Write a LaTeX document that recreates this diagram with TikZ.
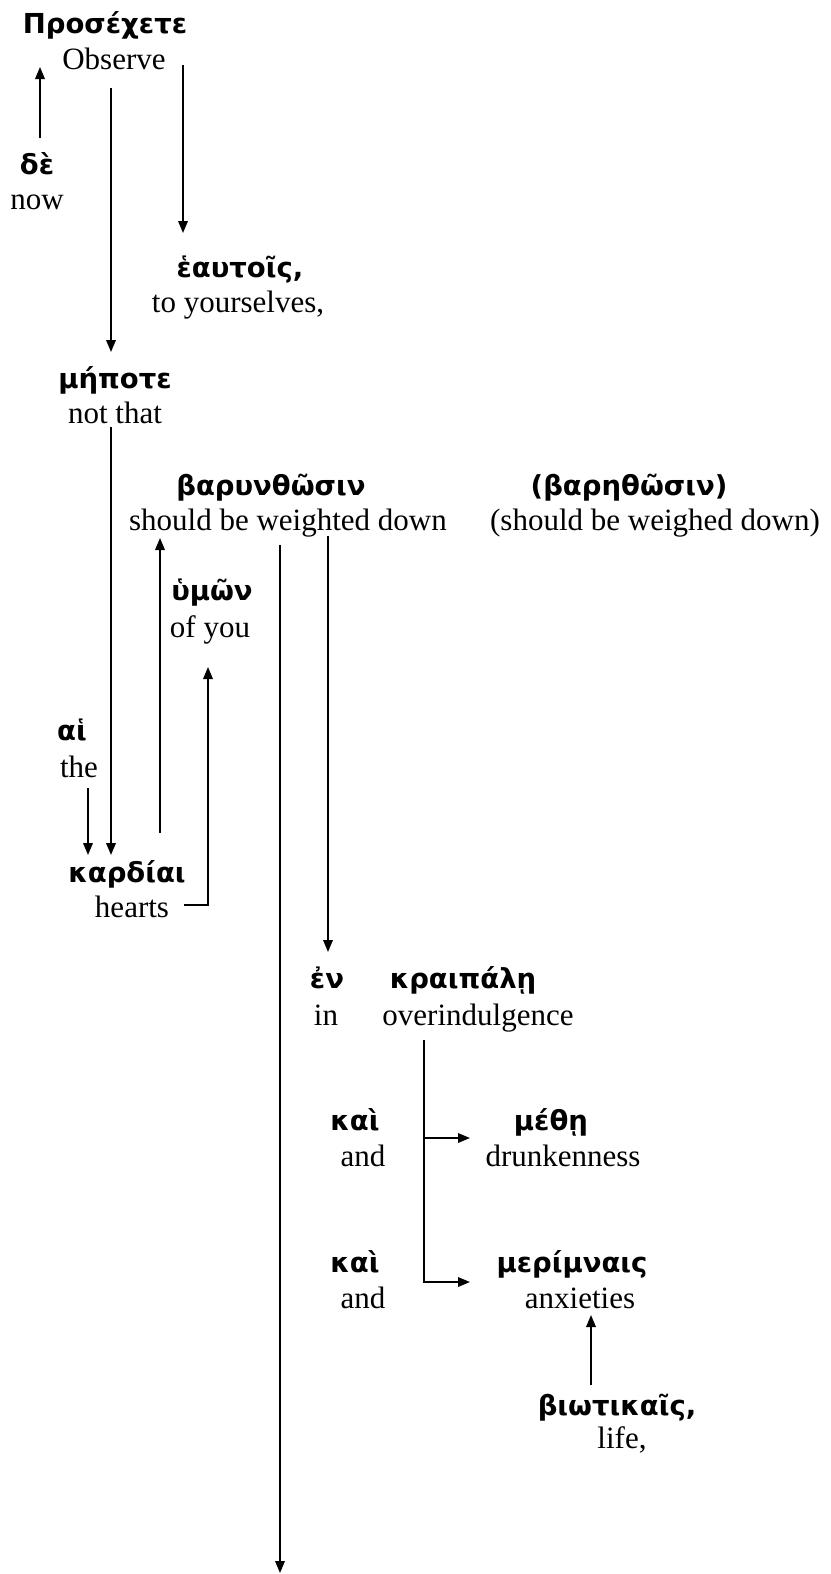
\documentclass[tikz,border=0pt]{standalone}
\usepackage{fontspec}
\setmainfont{Liberation Serif}
\newfontfamily\grk[Script=Greek]{DejaVu Sans}
\usetikzlibrary{arrows.meta}
\tikzset{
  gk/.style={font=\grk\bfseries\fontsize{27.5}{32}\selectfont, inner sep=0pt, anchor=base},
  en/.style={font=\fontsize{31}{36}\selectfont, inner sep=0pt, anchor=base},
  arr/.style={line width=1.9pt, -{Triangle[length=12pt,width=9.5pt]}},
  ln/.style={line width=1.9pt}
}
\begin{document}
\begin{tikzpicture}[x=1pt,y=-1pt]
\path[use as bounding box] (0,0) rectangle (830,1574);
% words
\node[gk] (G1) at (105,33) {Προσέχετε};
\node[en] (E1) at (114,69) {Observe};
\node[gk] (G2) at (37,174) {δὲ};
\node[en] (E2) at (37,209) {now};
\node[gk] (G3) at (240,277) {ἑαυτοῖς,};
\node[en] (E3) at (238,312) {to yourselves,};
\node[gk] (G4) at (115,388) {μήποτε};
\node[en] (E4) at (115,423) {not that};
\node[gk] (G5) at (271,495) {βαρυνθῶσιν};
\node[en] (E5) at (288,530) {should be weighted down};
\node[gk] (G6) at (629,495) {(βαρηθῶσιν)};
\node[en] (E6) at (655,530) {(should be weighed down)};
\node[gk] (G7) at (212,600) {ὑμῶν};
\node[en] (E7) at (210,637) {of you};
\node[gk] (G8) at (72,740) {αἱ};
\node[en] (E8) at (79,777) {the};
\node[gk] (G9) at (127,882) {καρδίαι};
\node[en] (E9) at (132,917) {hearts};
\node[gk] (G10) at (327,988) {ἐν};
\node[en] (E10) at (326,1025) {in};
\node[gk] (G11) at (463,988) {κραιπάλῃ};
\node[en] (E11) at (478,1025) {overindulgence};
\node[gk] (G12) at (355,1130) {καὶ};
\node[en] (E12) at (363,1166) {and};
\node[gk] (G13) at (551,1130) {μέθῃ};
\node[en] (E13) at (563,1166) {drunkenness};
\node[gk] (G14) at (355,1272) {καὶ};
\node[en] (E14) at (363,1308) {and};
\node[gk] (G15) at (572,1272) {μερίμναις};
\node[en] (E15) at (580,1308) {anxieties};
\node[gk] (G16) at (617,1415) {βιωτικαῖς,};
\node[en] (E16) at (622,1448) {life,};
\coordinate (bottom) at (280,1573);
% connectors
\draw[arr] ([xshift=3pt,yshift=36pt]G2.base) -- ([xshift=-74pt,yshift=2pt]E1.base);
\draw[arr] ([xshift=69pt,yshift=4pt]E1.base) -- ([xshift=-57pt,yshift=44pt]G3.base);
\draw[arr] ([xshift=-3pt,yshift=-19pt]E1.base) -- ([xshift=-4pt,yshift=36pt]G4.base);
\draw[arr] ([xshift=-4pt,yshift=-4pt]E4.base) -- ([xshift=-16pt,yshift=27pt]G9.base);
\draw[arr] ([xshift=9pt,yshift=-11pt]E8.base) -- ([xshift=-39pt,yshift=27pt]G9.base);
\draw[arr] ([xshift=33pt,yshift=49pt]G9.base) -- ([xshift=-128pt,yshift=-8pt]E5.base);
\draw[arr] ([xshift=52pt,yshift=12pt]E9.base) -| ([xshift=-2pt,yshift=-30pt]E7.base);
\draw[arr] ([xshift=-8pt,yshift=-15pt]E5.base) -- (bottom);
\draw[arr] ([xshift=40pt,yshift=-6pt]E5.base) -- ([xshift=1pt,yshift=36pt]G10.base);
\draw[arr] ([xshift=-54pt,yshift=-15pt]E11.base) |- ([xshift=-110pt,yshift=26pt]E15.base);
\draw[arr] ([xshift=-54pt,yshift=-113pt]E11.base) -- ([xshift=-93pt,yshift=28pt]E13.base);
\draw[arr] ([xshift=-26pt,yshift=30pt]G16.base) -- ([xshift=11pt,yshift=-7pt]E15.base);
\end{tikzpicture}
\end{document}
